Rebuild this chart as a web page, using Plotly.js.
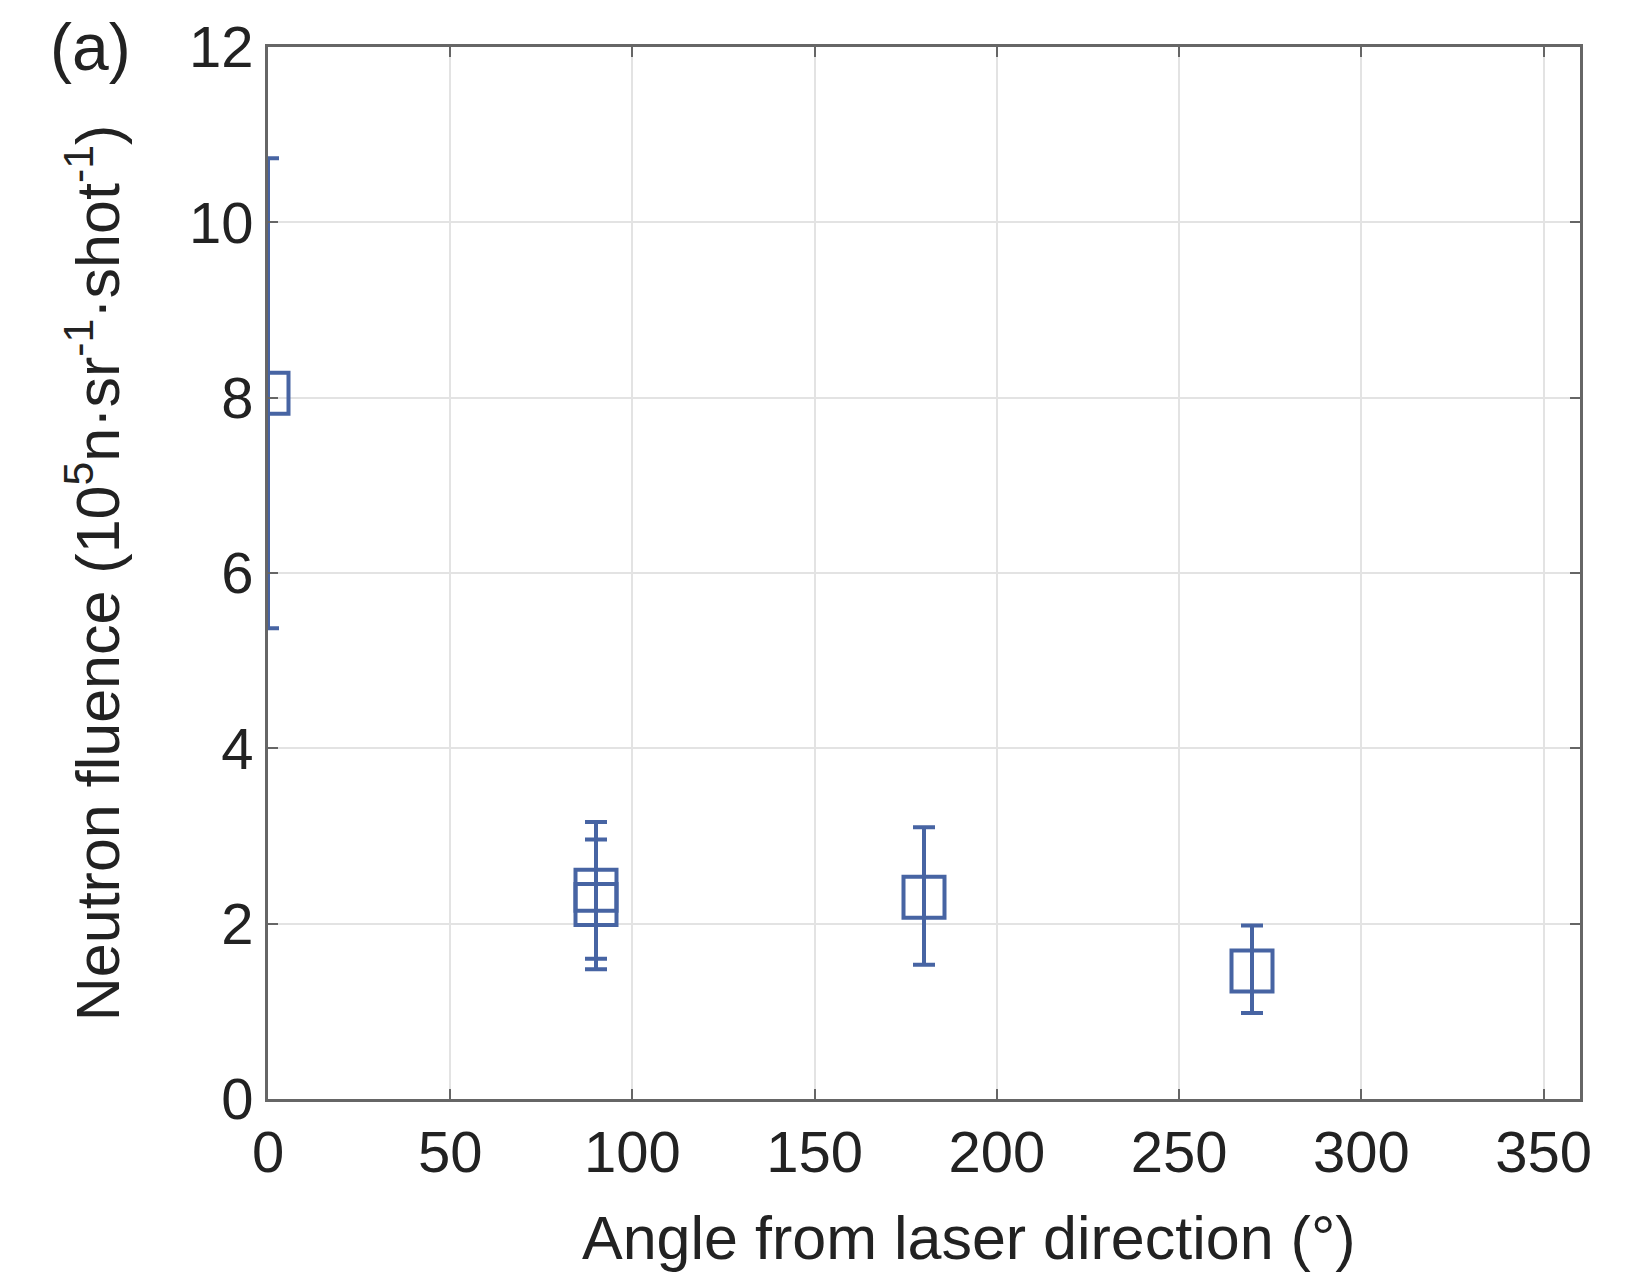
<!DOCTYPE html>
<html>
<head>
<meta charset="utf-8">
<script src="https://cdn.plot.ly/plotly-3.0.1.min.js"></script>
<style>body{margin:0;background:#fff}#chart{width:1625px;height:1280px}</style>
</head>
<body>
<div id="chart"></div>
<script>
const angle   = [0, 90, 90, 180, 270];
const fluence = [8.05, 2.38, 2.22, 2.30, 1.46];
const errUp   = [2.68, 0.78, 0.74, 0.80, 0.52];
const errDown = [2.68, 0.78, 0.74, 0.77, 0.48];
const xTicks  = [0, 50, 100, 150, 200, 250, 300, 350];
const yTicks  = [0, 2, 4, 6, 8, 10, 12];

const blue = '#4764a3';
const trace = {
  x: angle, y: fluence, type: 'scatter', mode: 'markers',
  marker: {symbol: 'square-open', size: 41, color: blue, line: {width: 4, color: blue}},
  error_y: {type: 'data', symmetric: false, array: errUp, arrayminus: errDown,
            color: blue, thickness: 4, width: 11},
  showlegend: false
};

const fam = 'Liberation Sans, Arial, Helvetica, sans-serif';
const tickFont = {family: fam, size: 58, color: '#222'};
const titleFont = {family: fam, size: 61, color: '#222'};
const layout = {
  width: 1625, height: 1280,
  margin: {l: 268, r: 45, t: 47, b: 181},
  paper_bgcolor: '#fff', plot_bgcolor: '#fff',
  font: tickFont,
  xaxis: {
    range: [0, 360], tickvals: xTicks, ticktext: xTicks.map(String),
    showgrid: true, gridcolor: '#e3e3e3', gridwidth: 2,
    showline: true, linecolor: '#666', linewidth: 3, mirror: 'ticks',
    ticks: 'inside', ticklen: 10, tickwidth: 2, tickcolor: '#666',
    tickfont: tickFont, zeroline: false,
    title: {text: ''}
  },
  yaxis: {
    range: [0, 12], tickvals: yTicks, ticktext: yTicks.map(String),
    showgrid: true, gridcolor: '#e3e3e3', gridwidth: 2,
    showline: true, linecolor: '#666', linewidth: 3, mirror: 'ticks',
    ticks: 'inside', ticklen: 10, tickwidth: 2, tickcolor: '#666',
    tickfont: tickFont, zeroline: false,
    title: {text: 'Neutron fluence (10<sup>5</sup>n·sr<sup>-1</sup>·shot<sup>-1</sup>)', font: titleFont, standoff: 50}
  },
  annotations: [{
    text: '(a)', xref: 'paper', yref: 'paper', x: -0.168, y: 1.0,
    xanchor: 'left', yanchor: 'middle', showarrow: false,
    font: {family: fam, size: 66, color: '#222'}
  }, {
    text: 'Angle from laser direction (°)', xref: 'paper', yref: 'paper',
    x: 0.534, y: -0.132, xanchor: 'center', yanchor: 'middle', showarrow: false,
    font: {family: fam, size: 61, color: '#222'}
  }]
};
Plotly.newPlot('chart', [trace], layout, {displayModeBar: false});
</script>
</body>
</html>
